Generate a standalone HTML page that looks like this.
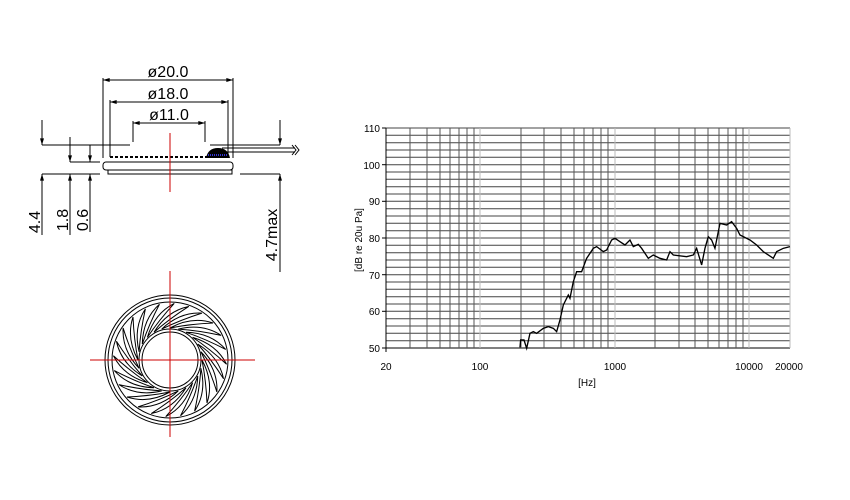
<!DOCTYPE html>
<html><head><style>
body{margin:0;background:#fff;width:850px;height:500px;overflow:hidden}
svg{display:block}
text{font-family:"Liberation Sans",sans-serif}
</style></head><body>
<svg width="850" height="500" viewBox="0 0 850 500">
<defs>
<marker id="a" viewBox="0 0 10 6" refX="10" refY="3" markerWidth="8" markerHeight="4" orient="auto-start-reverse" markerUnits="userSpaceOnUse"><path d="M0,0L10,3L0,6z" fill="#000"/></marker>
</defs>
<g stroke="#000" stroke-width="1" fill="none">
<line x1="103" y1="80" x2="233" y2="80" marker-start="url(#a)" marker-end="url(#a)"/>
<line x1="110" y1="102" x2="228" y2="102" marker-start="url(#a)" marker-end="url(#a)"/>
<line x1="133" y1="123" x2="205" y2="123" marker-start="url(#a)" marker-end="url(#a)"/>
<line x1="103" y1="78" x2="103" y2="158"/>
<line x1="233" y1="78" x2="233" y2="158"/>
<line x1="110" y1="100" x2="110" y2="157"/>
<line x1="228" y1="100" x2="228" y2="157"/>
<line x1="133" y1="121" x2="133" y2="142"/>
<line x1="205" y1="121" x2="205" y2="142"/>
<line x1="42" y1="145" x2="130" y2="145"/>
<line x1="210" y1="145" x2="280" y2="145"/>
<line x1="70" y1="162" x2="100" y2="162"/>
<line x1="42" y1="174" x2="100" y2="174"/>
<line x1="240" y1="174" x2="280" y2="174"/>
<line x1="42" y1="120" x2="42" y2="145" marker-end="url(#a)"/>
<line x1="70" y1="137" x2="70" y2="162" marker-end="url(#a)"/>
<line x1="90" y1="145" x2="90" y2="162" marker-end="url(#a)"/>
<line x1="42" y1="235" x2="42" y2="174" marker-end="url(#a)"/>
<line x1="70" y1="235" x2="70" y2="174" marker-end="url(#a)"/>
<line x1="90" y1="232" x2="90" y2="174" marker-end="url(#a)"/>
<line x1="280" y1="120" x2="280" y2="145" marker-end="url(#a)"/>
<line x1="280" y1="272" x2="280" y2="174" marker-end="url(#a)"/>
<rect x="103" y="162" width="130" height="8" rx="3"/>
<rect x="108" y="170" width="124" height="4"/>
<line x1="110" y1="157" x2="228" y2="157" stroke-width="2" stroke-dasharray="3,2"/>
<line x1="222" y1="148" x2="295" y2="148"/>
<line x1="222" y1="152" x2="295" y2="152"/>
<path d="M292,145l4,5l-4,5M295,145l4,5l-4,5"/>
</g>
<path d="M206,158 Q208,148 218,148 Q228,148 230,158z" fill="#000"/>
<line x1="208" y1="155" x2="228" y2="155" stroke="#33c" stroke-width="2" stroke-dasharray="1,1"/>
<line x1="170" y1="133" x2="170" y2="192" stroke="#c00" stroke-width="1"/>
<g font-size="16" fill="#000">
<text x="168" y="77" text-anchor="middle">ø20.0</text>
<text x="168" y="99" text-anchor="middle">ø18.0</text>
<text x="169" y="120" text-anchor="middle">ø11.0</text>
<text transform="translate(40,222) rotate(-90)" text-anchor="middle">4.4</text>
<text transform="translate(68,220) rotate(-90)" text-anchor="middle">1.8</text>
<text transform="translate(88,220) rotate(-90)" text-anchor="middle">0.6</text>
<text transform="translate(277,235) rotate(-90)" text-anchor="middle">4.7max</text>
</g>
<g stroke="#000" fill="none" stroke-width="1">
<circle cx="170" cy="360" r="65"/><circle cx="170" cy="360" r="62"/><circle cx="170" cy="360" r="58"/>
<circle cx="170" cy="360" r="31"/><circle cx="170" cy="360" r="28"/>
<path id="bl" d="M170,328 Q192,316 213,323 Q190,324 170,328z"/>
<use href="#bl" transform="rotate(15 170 360)"/><use href="#bl" transform="rotate(30 170 360)"/><use href="#bl" transform="rotate(45 170 360)"/><use href="#bl" transform="rotate(60 170 360)"/><use href="#bl" transform="rotate(75 170 360)"/><use href="#bl" transform="rotate(90 170 360)"/><use href="#bl" transform="rotate(105 170 360)"/><use href="#bl" transform="rotate(120 170 360)"/><use href="#bl" transform="rotate(135 170 360)"/><use href="#bl" transform="rotate(150 170 360)"/><use href="#bl" transform="rotate(165 170 360)"/><use href="#bl" transform="rotate(180 170 360)"/><use href="#bl" transform="rotate(195 170 360)"/><use href="#bl" transform="rotate(210 170 360)"/><use href="#bl" transform="rotate(225 170 360)"/><use href="#bl" transform="rotate(240 170 360)"/><use href="#bl" transform="rotate(255 170 360)"/><use href="#bl" transform="rotate(270 170 360)"/><use href="#bl" transform="rotate(285 170 360)"/><use href="#bl" transform="rotate(300 170 360)"/><use href="#bl" transform="rotate(315 170 360)"/><use href="#bl" transform="rotate(330 170 360)"/><use href="#bl" transform="rotate(345 170 360)"/>
</g>
<g stroke="#c00" stroke-width="1">
<line x1="90" y1="360" x2="255" y2="360"/><line x1="170" y1="271" x2="170" y2="437"/>
</g>
<g stroke-width="1">
<g stroke="#444">
<line x1="386" y1="128" x2="790" y2="128"/><line x1="386" y1="135.3" x2="790" y2="135.3"/><line x1="386" y1="142.7" x2="790" y2="142.7"/><line x1="386" y1="150" x2="790" y2="150"/><line x1="386" y1="157.3" x2="790" y2="157.3"/><line x1="386" y1="164.7" x2="790" y2="164.7"/><line x1="386" y1="172" x2="790" y2="172"/><line x1="386" y1="179.3" x2="790" y2="179.3"/><line x1="386" y1="186.7" x2="790" y2="186.7"/><line x1="386" y1="194" x2="790" y2="194"/><line x1="386" y1="201.3" x2="790" y2="201.3"/><line x1="386" y1="208.7" x2="790" y2="208.7"/><line x1="386" y1="216" x2="790" y2="216"/><line x1="386" y1="223.3" x2="790" y2="223.3"/><line x1="386" y1="230.7" x2="790" y2="230.7"/><line x1="386" y1="238" x2="790" y2="238"/><line x1="386" y1="245.3" x2="790" y2="245.3"/><line x1="386" y1="252.7" x2="790" y2="252.7"/><line x1="386" y1="260" x2="790" y2="260"/><line x1="386" y1="267.3" x2="790" y2="267.3"/><line x1="386" y1="274.7" x2="790" y2="274.7"/><line x1="386" y1="282" x2="790" y2="282"/><line x1="386" y1="289.3" x2="790" y2="289.3"/><line x1="386" y1="296.7" x2="790" y2="296.7"/><line x1="386" y1="304" x2="790" y2="304"/><line x1="386" y1="311.3" x2="790" y2="311.3"/><line x1="386" y1="318.7" x2="790" y2="318.7"/><line x1="386" y1="326" x2="790" y2="326"/><line x1="386" y1="333.3" x2="790" y2="333.3"/><line x1="386" y1="340.7" x2="790" y2="340.7"/>
<line x1="386" y1="348" x2="790" y2="348" stroke="#000"/>
</g>
<g stroke="#555">
<line x1="410" y1="128" x2="410" y2="348"/><line x1="427" y1="128" x2="427" y2="348"/><line x1="440" y1="128" x2="440" y2="348"/><line x1="450" y1="128" x2="450" y2="348"/><line x1="459" y1="128" x2="459" y2="348"/><line x1="467" y1="128" x2="467" y2="348"/><line x1="474" y1="128" x2="474" y2="348"/>
<line x1="521" y1="128" x2="521" y2="348"/><line x1="544" y1="128" x2="544" y2="348"/><line x1="561" y1="128" x2="561" y2="348"/><line x1="574" y1="128" x2="574" y2="348"/><line x1="584" y1="128" x2="584" y2="348"/><line x1="593" y1="128" x2="593" y2="348"/><line x1="601" y1="128" x2="601" y2="348"/><line x1="608" y1="128" x2="608" y2="348"/>
<line x1="655" y1="128" x2="655" y2="348"/><line x1="679" y1="128" x2="679" y2="348"/><line x1="695" y1="128" x2="695" y2="348"/><line x1="708" y1="128" x2="708" y2="348"/><line x1="719" y1="128" x2="719" y2="348"/><line x1="728" y1="128" x2="728" y2="348"/><line x1="736" y1="128" x2="736" y2="348"/><line x1="743" y1="128" x2="743" y2="348"/>
</g>
<g stroke="#bbb"><line x1="480" y1="128" x2="480" y2="348"/><line x1="615" y1="128" x2="615" y2="348"/><line x1="749" y1="128" x2="749" y2="348"/><line x1="790" y1="128" x2="790" y2="348"/></g>
<line x1="386" y1="128" x2="386" y2="352" stroke="#000"/>
<g stroke="#000"><line x1="382" y1="128" x2="386" y2="128"/><line x1="382" y1="164.7" x2="386" y2="164.7"/><line x1="382" y1="201.3" x2="386" y2="201.3"/><line x1="382" y1="238" x2="386" y2="238"/><line x1="382" y1="274.7" x2="386" y2="274.7"/><line x1="382" y1="311.3" x2="386" y2="311.3"/><line x1="382" y1="348" x2="386" y2="348"/></g>
<polyline transform="translate(340,115) scale(0.3333)" stroke="#000" stroke-width="4" fill="none" points="540,697 542,675 552,675 560,700 570,655 580,650 590,655 610,640 625,635 640,640 650,650 660,615 670,570 685,540 690,550 700,500 710,470 725,470 740,430 760,400 770,395 790,410 800,405 815,375 825,370 840,380 855,390 870,375 880,395 895,388 905,400 925,430 940,420 960,430 980,435 990,410 1000,420 1040,425 1060,420 1070,400 1085,450 1095,400 1105,365 1115,375 1125,400 1140,325 1160,330 1175,320 1190,340 1200,360 1230,375 1250,390 1270,410 1300,430 1310,410 1330,400 1350,395"/>
</g>
<g font-size="10" fill="#000">
<text x="380" y="132" text-anchor="end">110</text>
<text x="380" y="169" text-anchor="end">100</text>
<text x="380" y="205" text-anchor="end">90</text>
<text x="380" y="242" text-anchor="end">80</text>
<text x="380" y="279" text-anchor="end">70</text>
<text x="380" y="315" text-anchor="end">60</text>
<text x="380" y="352" text-anchor="end">50</text>
<text x="386" y="370" text-anchor="middle">20</text>
<text x="480" y="370" text-anchor="middle">100</text>
<text x="615" y="370" text-anchor="middle">1000</text>
<text x="749" y="370" text-anchor="middle">10000</text>
<text x="789" y="370" text-anchor="middle">20000</text>
<text x="587" y="386" text-anchor="middle">[Hz]</text>
<text transform="translate(362,240) rotate(-90)" text-anchor="middle">[dB re 20u Pa]</text>
</g>
</svg>
</body></html>
